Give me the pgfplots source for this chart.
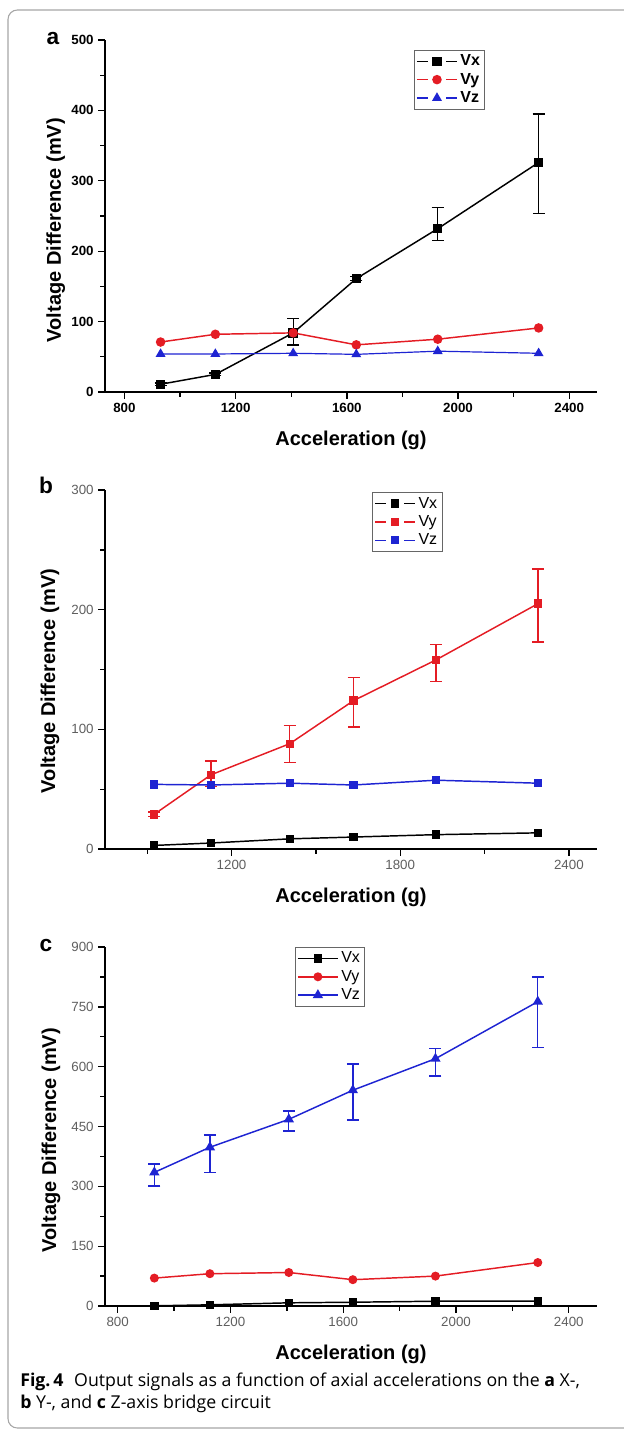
\documentclass[border=0pt]{standalone}
\usepackage{fontspec}
\setmainfont{Liberation Sans}
\newfontfamily\capfont{Open Sans}
\usepackage{pgfplots}
\pgfplotsset{compat=1.18}
\definecolor{vred}{RGB}{228,28,36}
\definecolor{vblue}{RGB}{30,36,210}
\definecolor{tickgray}{RGB}{95,95,95}

\pgfplotsset{
  panel/.style={
    scale only axis, width=369pt, anchor=south west,
    axis x line*=bottom, axis y line*=left, tick pos=left, tick align=outside,
    axis line style={line width=1.1pt},
    every tick/.style={black,line width=1pt},
    major tick length=5pt, minor tick length=3.5pt,
    ymin=0, scaled ticks=false, clip=false,
    /pgf/number format/1000 sep={},
    /pgf/number format/assume math mode=true,
    ticklabel style={font=\fontsize{10}{11}\selectfont},
    xlabel={Acceleration (g)}, ylabel={Voltage Difference (mV)},
    every axis x label/.style={at={(axis description cs:0.5,0)},anchor=center,
      yshift=-36pt,font=\fontsize{15}{16}\selectfont\bfseries},
    every axis y label/.append style={font=\fontsize{15}{16}\selectfont\bfseries},
    legend cell align=left,
    legend style={draw=gray!80!black, font=\fontsize{12}{14}\selectfont,
      anchor=north west, inner sep=1.5pt, row sep=0pt},
  },
  gapleg/.style={legend image code/.code={
      \draw[##1] (0pt,0pt) -- (8pt,0pt);
      \draw[##1] (22pt,0pt) -- (30pt,0pt);
      \draw[##1] plot[only marks] coordinates {(15pt,0pt)};}},
  fullleg/.style={legend image code/.code={
      \draw[##1] (0pt,0pt) -- (30pt,0pt);
      \draw[##1] plot[only marks] coordinates {(15pt,0pt)};}},
  ebar/.style={error bars/.cd, y dir=both, y explicit,
      error bar style={line width=1pt},
      error mark options={rotate=90, mark size=4.5pt, line width=1pt}},
}

\begin{document}
\begin{tikzpicture}
\begin{scope}[x=0.75pt,y=-0.75pt]
\useasboundingbox (0,0) rectangle (624,1432);
\draw[gray!70,line width=0.8pt,rounded corners=7pt] (624,10) -- (8,10) -- (8,1428) -- (624,1428);
\node[anchor=base,font=\fontsize{17}{18}\selectfont\bfseries] at (53,44) {a};
\node[anchor=base,font=\fontsize{17}{18}\selectfont\bfseries] at (46,493) {b};
\node[anchor=base,font=\fontsize{17}{18}\selectfont\bfseries] at (46,951) {c};
\node[anchor=base west,font=\capfont\fontsize{13.3}{15}\selectfont,inner sep=0pt] at (20,1386)
  {\textbf{Fig.\,4}\hspace{0.6em}Output signals as a function of axial accelerations on the \textbf{a} X-,};
\node[anchor=base west,font=\capfont\fontsize{13.3}{15}\selectfont,inner sep=0pt] at (20,1408)
  {\textbf{b} Y-, and \textbf{c} Z-axis bridge circuit};
\end{scope}

% (a) X-axis bridge
\begin{axis}[panel, at={(78.75pt,-294pt)}, height=264pt,
  xmin=730, xmax=2500, ymax=500,
  xtick={800,1200,1600,2000,2400}, minor xtick={1000,1400,1800,2200},
  ytick={0,100,200,300,400,500}, minor ytick={50,150,250,350,450},
  ticklabel style={font=\fontsize{10}{11}\selectfont\bfseries},
  ylabel style={at={(axis description cs:-0.1,0.46)},anchor=center},
  legend style={at={(0.628,0.972)},font=\fontsize{12}{14}\selectfont\bfseries},
  gapleg]
\addplot[black,line width=1.1pt,mark=square*,mark size=3pt,ebar] coordinates {
  (930,11) +- (0,2) (1127,25) +- (0,2) (1407,84) += (0,20) -= (0,17)
  (1634,161) +- (0,3) (1927,232) += (0,30) -= (0,17) (2290,326) += (0,69) -= (0,72)};
\addlegendentry{Vx}
\addplot[vred,line width=1.1pt,mark=*,mark size=3pt] coordinates {
  (930,71) (1127,82) (1407,84) (1634,67) (1927,75) (2290,91)};
\addlegendentry{Vy}
\addplot[vblue,line width=0.9pt,mark=triangle*,mark size=3.4pt] coordinates {
  (930,54) (1127,54) (1407,55) (1634,53.5) (1927,58) (2290,55)};
\addlegendentry{Vz}
\end{axis}

% (b) Y-axis bridge
\begin{axis}[panel, at={(78.75pt,-636.75pt)}, height=269.25pt,
  xmin=750, xmax=2500, ymax=300,
  xtick={1200,1800,2400}, minor xtick={900,1500,2100},
  ytick={0,100,200,300}, minor ytick={50,150,250},
  ticklabel style={text=tickgray},
  ylabel style={at={(axis description cs:-0.112,0.468)},anchor=center},
  legend style={at={(0.543,0.994)}},
  gapleg]
\addplot[black,line width=1.1pt,mark=square*,mark size=2.6pt] coordinates {
  (925,3) (1127,5) (1407,8.5) (1634,10) (1927,12) (2290,13.5)};
\addlegendentry{Vx}
\addplot[vred,line width=1.1pt,mark=square*,mark size=2.6pt,ebar] coordinates {
  (925,29) +- (0,2) (1127,62) += (0,11.5) -= (0,10) (1407,88) += (0,15) -= (0,15.5)
  (1634,124) += (0,19.5) -= (0,22) (1927,158) += (0,13) -= (0,18) (2290,205) += (0,29) -= (0,32)};
\addlegendentry{Vy}
\addplot[vblue,line width=1.1pt,mark=square*,mark size=2.6pt] coordinates {
  (925,54) (1127,53.5) (1407,55) (1634,53.5) (1927,57.5) (2290,55)};
\addlegendentry{Vz}
\end{axis}

% (c) Z-axis bridge
\begin{axis}[panel, at={(78.75pt,-979.5pt)}, height=269.25pt,
  xmin=755, xmax=2500, ymax=900,
  xtick={800,1200,1600,2000,2400}, minor xtick={1000,1400,1800,2200},
  ytick={0,150,300,450,600,750,900}, minor ytick={75,225,375,525,675,825},
  ticklabel style={text=tickgray},
  ylabel style={at={(axis description cs:-0.11,0.462)},anchor=center},
  legend style={at={(0.386,1.0)}},
  fullleg]
\addplot[black,line width=1.1pt,mark=square*,mark size=2.6pt] coordinates {
  (930,0.5) (1127,3) (1407,8) (1634,9.5) (1927,12) (2290,12)};
\addlegendentry{Vx}
\addplot[vred,line width=1.1pt,mark=*,mark size=2.8pt] coordinates {
  (930,70) (1127,81) (1407,84) (1634,66) (1927,75) (2290,109)};
\addlegendentry{Vy}
\addplot[vblue,line width=1.1pt,mark=triangle*,mark size=3.4pt,ebar] coordinates {
  (930,335) += (0,21) -= (0,34) (1127,398) += (0,31) -= (0,63) (1407,468) += (0,21) -= (0,29)
  (1634,541) += (0,66) -= (0,75) (1927,620) += (0,25) -= (0,43) (2290,763) += (0,62) -= (0,115)};
\addlegendentry{Vz}
\end{axis}
\end{tikzpicture}
\end{document}
